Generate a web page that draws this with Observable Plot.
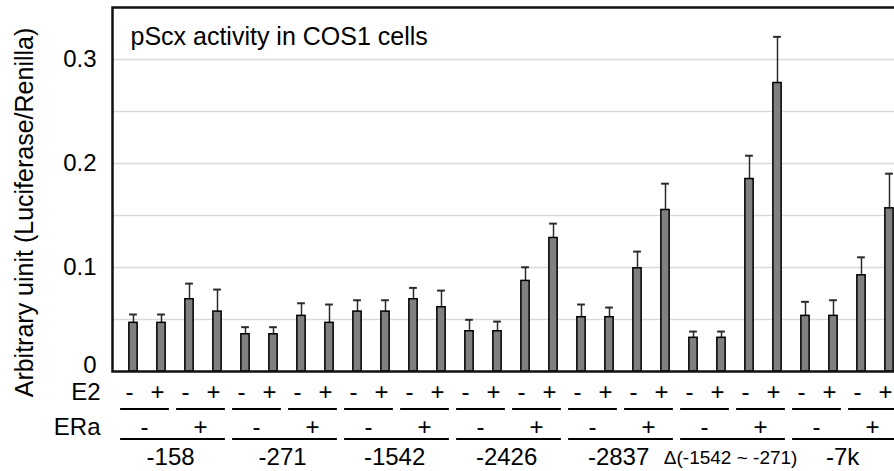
<!DOCTYPE html>
<html><head><meta charset="utf-8">
<script src="https://cdn.jsdelivr.net/npm/d3@7"></script>
<script src="https://cdn.jsdelivr.net/npm/@observablehq/plot@0.6"></script>
<style>
html,body{margin:0;padding:0;background:#fff;overflow:hidden;}
#chart svg{display:block;}
</style></head><body><div id="chart"></div>
<script>
// ---- data ----
const constructs = ["-158", "-271", "-1542", "-2426", "-2837", "Δ(-1542 ~ -271)", "-7k"];
const eraLevels = ["-", "+"];
const e2Levels = ["-", "+"];
const means = [
  0.0468, 0.0468, 0.0695, 0.0576,
  0.0358, 0.0358, 0.0535, 0.0468,
  0.0576, 0.0576, 0.0695, 0.0618,
  0.0387, 0.0387, 0.0871, 0.1284,
  0.0522, 0.0522, 0.0992, 0.1553,
  0.0324, 0.0324, 0.1851, 0.2774,
  0.0535, 0.0535, 0.0925, 0.1569
];
const errors = [
  0.0080, 0.0080, 0.0150, 0.0212,
  0.0068, 0.0068, 0.0121, 0.0176,
  0.0109, 0.0109, 0.0109, 0.0160,
  0.0110, 0.0093, 0.0131, 0.0138,
  0.0122, 0.0093, 0.0161, 0.0253,
  0.0060, 0.0060, 0.0224, 0.0444,
  0.0135, 0.0150, 0.0173, 0.0333
];
const yTicks = [0.1, 0.2, 0.3];
const yTickLabels = ["0.1", "0.2", "0.3"];
const zeroLabel = ["0"];
const gridValues = [0.05, 0.1, 0.15, 0.2, 0.25, 0.3];
const yDomain = [0, 0.35];
const title = "pScx activity in COS1 cells";
const yLabel = "Arbitrary uinit (Luciferase/Renilla)";
const rowLabelE2 = "E2";
const rowLabelERa = "ERa";

// ---- derived tables ----
const bars = [];
constructs.forEach((c) => eraLevels.forEach((era) => e2Levels.forEach((e2) => {
  const i = bars.length;
  bars.push({key: i, construct: c, era, e2, mean: means[i], err: errors[i]});
})));
const keys = bars.map(d => d.key);
const pairs = bars.filter((d, i) => i % 2 === 0).map(d => ({a: d.key, b: d.key + 1, era: d.era}));
const groups = bars.filter((d, i) => i % 4 === 0).map(d => ({a: d.key, b: d.key + 3, mid: d.key + 1, label: d.construct}));

// ---- layout ----
const W = 910, H = 471, ML = 112, MR = 0, MT = 7, MB = 100;
const PO = 0.14;
const step = (W - ML - MR) / (keys.length + 2 * PO);
const barInset = (step - 8.5) / 2;
const capInset = (step - 8) / 2;
const font = "'Liberation Sans', Arial, Helvetica, sans-serif";
const txt = {fill: "#000", lineAnchor: "middle"};

const chart = Plot.plot({
  width: W, height: H,
  marginLeft: ML, marginRight: MR, marginTop: MT, marginBottom: MB,
  style: {fontFamily: font, background: "#fff", color: "#000", maxWidth: "none", overflow: "visible"},
  x: {type: "band", domain: keys, paddingInner: 0, paddingOuter: PO, axis: null},
  y: {domain: yDomain, axis: null},
  marks: [
    Plot.ruleY(gridValues, {stroke: "#d9d9d9", strokeWidth: 1.5}),
    Plot.ruleX(bars, {x: "key", y1: "mean", y2: d => d.mean + d.err, stroke: "#2a2a2a", strokeWidth: 1.5}),
    Plot.tickY(bars, {x: "key", y: d => d.mean + d.err, stroke: "#2a2a2a", strokeWidth: 2, insetLeft: capInset, insetRight: capInset}),
    Plot.barY(bars, {x: "key", y: "mean", fill: "#808080", stroke: "#000", strokeWidth: 1.5, insetLeft: barInset, insetRight: barInset}),
    Plot.frame({stroke: "#111", strokeWidth: 2.5}),
    // y tick labels
    Plot.text(yTicks, {...txt, frameAnchor: "left", y: d => d, text: (d, i) => yTickLabels[i], textAnchor: "end", dx: -16, dy: -0.5, fontSize: 24}),
    Plot.text(zeroLabel, {...txt, frameAnchor: "bottom-left", text: d => d, textAnchor: "end", dx: -16, dy: -6, fontSize: 24}),
    // title
    Plot.text([title], {...txt, frameAnchor: "top-left", text: d => d, textAnchor: "start", dx: 18, dy: 29.4, fontSize: 25}),
    // y label
    Plot.text([yLabel], {...txt, frameAnchor: "left", text: d => d, textAnchor: "middle", rotate: -90, dx: -87.7, dy: 23, fontSize: 25}),
    // E2 row
    Plot.text([rowLabelE2], {...txt, frameAnchor: "bottom-left", text: d => d, textAnchor: "end", dx: -12, dy: 21, fontSize: 24}),
    Plot.text(bars, {...txt, x: "key", frameAnchor: "bottom", text: "e2", dx: -4, dy: 21, fontSize: 24}),
    Plot.ruleY(pairs, {x1: "a", x2: "b", y: () => 0, dy: 37.5, stroke: "#000", strokeWidth: 2.2, insetLeft: 1.1, insetRight: 6.1}),
    // ERa row
    Plot.text([rowLabelERa], {...txt, frameAnchor: "bottom-left", text: d => d, textAnchor: "end", dx: -12, dy: 56, fontSize: 24}),
    Plot.text(pairs, {...txt, x: "a", frameAnchor: "bottom", text: "era", dx: step / 2 - 3, dy: 56, fontSize: 24}),
    Plot.ruleY(groups, {x1: "a", x2: "b", y: () => 0, dy: 67.5, stroke: "#000", strokeWidth: 2.2, insetLeft: 1.1, insetRight: 6.1}),
    // construct labels
    Plot.text(groups, {...txt, x: "mid", frameAnchor: "bottom", text: "label", dx: step / 2 - 5, dy: 86, fontSize: d => d.label.startsWith("Δ") ? 19 : 24})
  ]
});
document.getElementById("chart").appendChild(chart);
</script>
</body></html>
